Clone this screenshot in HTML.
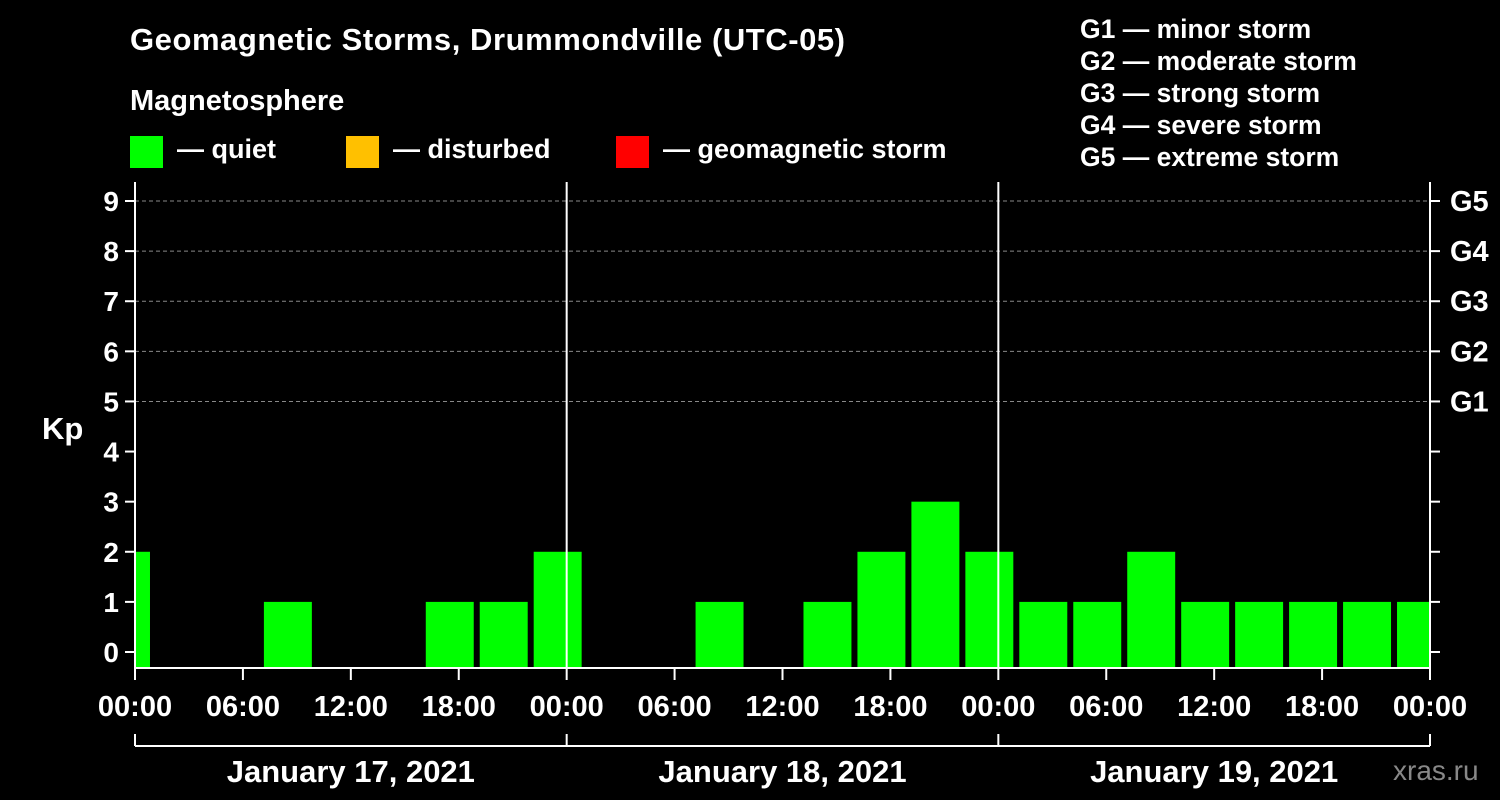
<!DOCTYPE html>
<html><head><meta charset="utf-8"><style>
body{margin:0;background:#000;}
svg{display:block;font-family:"Liberation Sans",Arial,sans-serif;font-weight:bold;}
</style></head><body>
<svg id="chart" width="1500" height="800" viewBox="0 0 1500 800">
<rect x="0" y="0" width="1500" height="800" fill="#000"/>
<text x="130" y="50" fill="#fff" font-size="31" textLength="715">Geomagnetic Storms, Drummondville (UTC-05)</text>
<text x="130" y="110" fill="#fff" font-size="29">Magnetosphere</text>
<g><rect x="130" y="136" width="33" height="32" fill="#00ff00"/><text x="177" y="158" fill="#fff" font-size="27">— quiet</text></g>
<g><rect x="346" y="136" width="33" height="32" fill="#ffc000"/><text x="393" y="158" fill="#fff" font-size="27">— disturbed</text></g>
<g><rect x="616" y="136" width="33" height="32" fill="#ff0000"/><text x="663" y="158" fill="#fff" font-size="27">— geomagnetic storm</text></g>
<g fill="#fff" font-size="26.5">
<text x="1080" y="38">G1 — minor storm</text>
<text x="1080" y="70">G2 — moderate storm</text>
<text x="1080" y="102">G3 — strong storm</text>
<text x="1080" y="134">G4 — severe storm</text>
<text x="1080" y="166">G5 — extreme storm</text>
</g>
<text x="42" y="439" fill="#fff" font-size="31">Kp</text>
<text x="1393" y="780" fill="#888" font-size="28" font-weight="normal">xras.ru</text>
<g id="plot"></g>
</svg>
<script>
const hours = [-0.5,2.5,5.5,8.5,11.5,14.5,17.5,20.5,23.5,26.5,29.5,32.5,35.5,38.5,41.5,44.5,47.5,50.5,53.5,56.5,59.5,62.5,65.5,68.5,71.5];
const kpValues = [2,0,0,1,0,0,1,1,2,0,0,1,0,1,2,3,2,1,1,2,1,1,1,1,1];
const yTicks = [0,1,2,3,4,5,6,7,8,9];
const gLabels = ["","","","","","G1","G2","G3","G4","G5"];
const xTickLabels = ["00:00","06:00","12:00","18:00","00:00","06:00","12:00","18:00","00:00","06:00","12:00","18:00","00:00"];
const dayLabels = ["January 17, 2021","January 18, 2021","January 19, 2021"];

const L=135,R=1430,T=182,B=668;
const x=h=>L+h*(R-L)/72;
const y=v=>652-v*50.11;
const NS="http://www.w3.org/2000/svg";
const g=document.getElementById('plot');
function mk(tag,attrs,text){const e=document.createElementNS(NS,tag);for(const k in attrs)e.setAttribute(k,attrs[k]);if(text!==undefined)e.textContent=text;g.appendChild(e);return e;}

const defs=mk('defs',{});
const cp=document.createElementNS(NS,'clipPath');cp.setAttribute('id','pc');
const cr=document.createElementNS(NS,'rect');cr.setAttribute('x',L);cr.setAttribute('y',T);cr.setAttribute('width',R-L);cr.setAttribute('height',B-T);
cp.appendChild(cr);defs.appendChild(cp);

yTicks.forEach((v,i)=>{
  if(v>=5){const l=mk('line',{x1:L,x2:R,y1:y(v),y2:y(v),stroke:'#888','stroke-dasharray':'4,3','stroke-width':1});
  
  }
});
const bw=(R-L)/72*3-6;
hours.forEach((h,i)=>{
  if(kpValues[i]<=0)return;
  const c=kpValues[i]>=5?'#ff0000':(kpValues[i]>=4?'#ffc000':'#00ff00');
  const r=mk('rect',{x:x(h)-bw/2,y:y(kpValues[i]),width:bw,height:B-y(kpValues[i]),fill:c,'clip-path':'url(#pc)'});
  
  
});
const fr=mk('path',{d:`M${L},${T}V${B}H${R}V${T}`,stroke:'#fff','stroke-width':2,fill:'none'});


[24,48].forEach(h=>{const l=mk('line',{x1:x(h),x2:x(h),y1:T,y2:B,stroke:'#fff','stroke-width':2});

});
yTicks.forEach((v,i)=>{
  mk('line',{x1:L-10,x2:L,y1:y(v),y2:y(v),stroke:'#fff','stroke-width':2});
  mk('line',{x1:R,x2:R+10,y1:y(v),y2:y(v),stroke:'#fff','stroke-width':2});
  const t=mk('text',{x:L-16,y:y(v)+10,fill:'#fff','font-size':28,'text-anchor':'end'},String(v));
  
  
  if(gLabels[i]){const gt=mk('text',{x:R+20,y:y(v)+10,fill:'#fff','font-size':29},gLabels[i]);
  
  }
});
xTickLabels.forEach((s,i)=>{
  const xx=x(i*6);
  mk('line',{x1:xx,x2:xx,y1:B,y2:B+12,stroke:'#fff','stroke-width':2});
  const t=mk('text',{x:xx,y:716,fill:'#fff','font-size':29,'text-anchor':'middle'},s);
  
  
});
mk('line',{x1:L,x2:R,y1:746,y2:746,stroke:'#fff','stroke-width':2});
[0,24,48,72].forEach(h=>mk('line',{x1:x(h),x2:x(h),y1:734,y2:746,stroke:'#fff','stroke-width':2}));
dayLabels.forEach((s,i)=>{
  const t=mk('text',{x:x(i*24+12),y:782,fill:'#fff','font-size':31,'text-anchor':'middle'},s);
  
  
});
</script>
</body></html>
